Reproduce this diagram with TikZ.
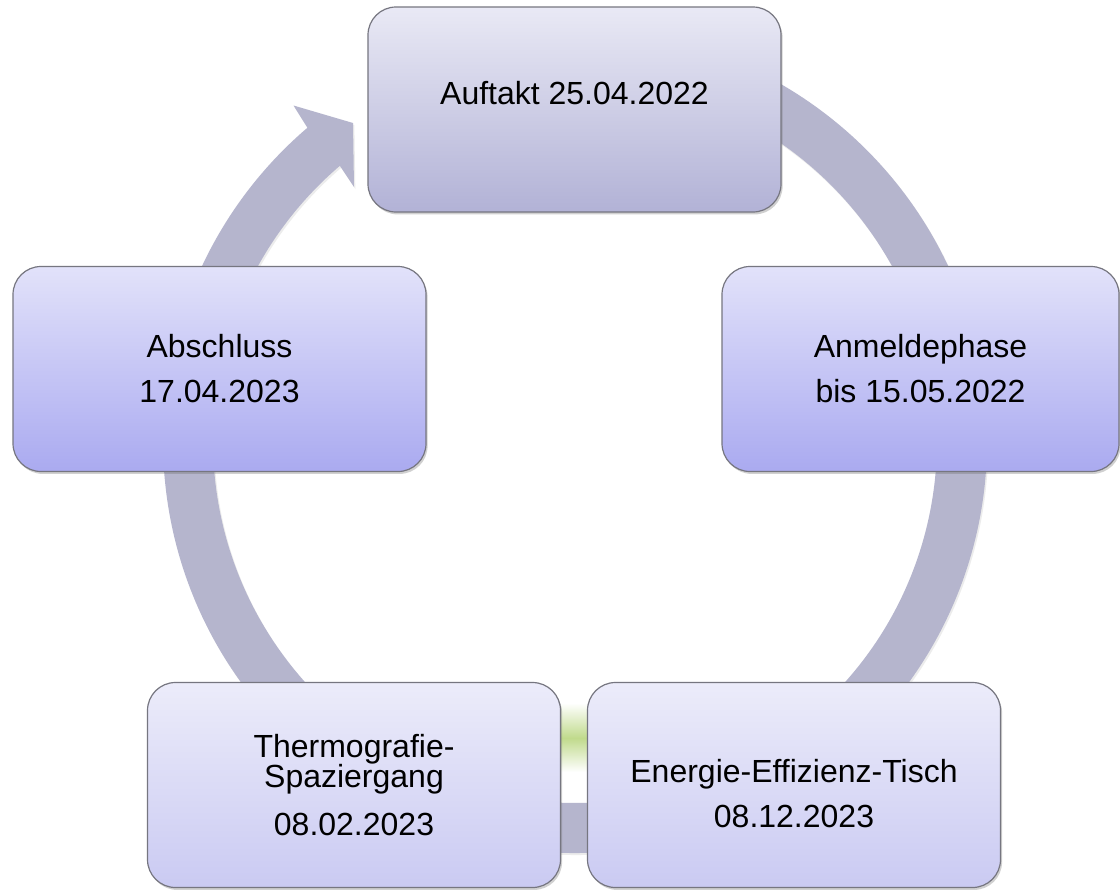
\documentclass[tikz,border=0pt]{standalone}
\usepackage{fontspec}
\setmainfont{Liberation Sans}
\usetikzlibrary{shadows,calc}
\definecolor{ring}{RGB}{181,181,205}
\definecolor{edgec}{RGB}{118,118,128}
\definecolor{topA}{RGB}{233,233,245}
\definecolor{botA}{RGB}{178,178,214}
\definecolor{topB}{RGB}{226,226,250}
\definecolor{botB}{RGB}{170,170,240}
\definecolor{topC}{RGB}{236,236,250}
\definecolor{botC}{RGB}{202,202,242}
\definecolor{glow}{RGB}{192,218,140}
\begin{document}
\begin{tikzpicture}[x=0.75pt,y=-0.75pt,
  box/.style={rectangle, rounded corners=21pt, draw=edgec, line width=0.9pt,
    inner sep=0pt, outer sep=0pt, text=black,
    font=\fontsize{24}{33.75}\selectfont,
    drop shadow={shadow xshift=1.2pt, shadow yshift=-1.8pt, opacity=0.3, fill=black!60}},
  wide/.style={minimum width=413*0.75pt, minimum height=205*0.75pt},
  ringfill/.style={fill=ring, drop shadow={shadow xshift=1pt, shadow yshift=-1.5pt, opacity=0.15, fill=black!50}}]
\useasboundingbox (0,0) rectangle (1120,889);
\fill[white] (0,0) rectangle (1120,889);

% faint green glow between the two bottom boxes
\shade[top color=white, bottom color=glow] (559,703) rectangle (591,738);
\shade[top color=glow, bottom color=white] (559,738) rectangle (591,772);

% cycle ring with arrow head
\coordinate (c) at (575,441);
\coordinate (headout) at (293.5,105.5);
\coordinate (tip) at (353,123);
\coordinate (headin) at (354,187);
\path[ringfill] ($(c)+(-95:412)$) arc[start angle=-95, end angle=229.5, radius=412]
  -- (headout) -- (tip) -- (headin)
  -- ($(c)+(229.5:362)$) arc[start angle=229.5, end angle=-95, radius=362] -- cycle;

% boxes
\node[box, wide, top color=topA, bottom color=botA, text height=17.25pt, text depth=25.5pt]
  (auftakt) at (574.5,109.5) {Auftakt 25.04.2022};
\node[box, wide, align=center, top color=topB, bottom color=botB]
  (abschluss) at (219.5,369) {Abschluss\\17.04.2023};
\node[box, minimum width=397*0.75pt, minimum height=205*0.75pt, align=center, top color=topB, bottom color=botB]
  (anmelde) at (920.5,369) {Anmeldephase\\bis 15.05.2022};
\node[box, wide, align=center, top color=topC, bottom color=botC]
  (thermo) at (354,785) {Thermografie-\\[-11.25pt]Spaziergang\\[2.25pt]08.02.2023};
\node[box, wide, align=center, top color=topC, bottom color=botC]
  (energie) at (794,785) {\rule{0pt}{29.5pt}Energie-Effizienz-Tisch\\08.12.2023};
\end{tikzpicture}
\end{document}
